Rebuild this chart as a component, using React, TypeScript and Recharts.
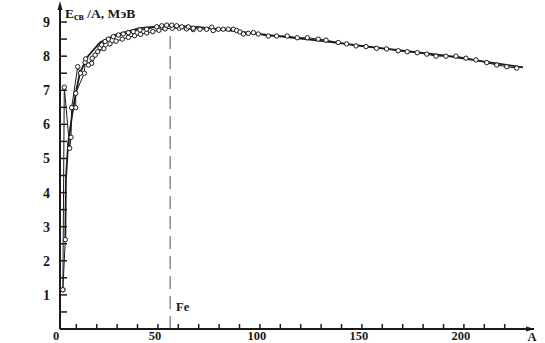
import { LineChart, Line, XAxis, YAxis, ReferenceLine, Customized } from 'recharts'

// mass number A / binding energy per nucleon
const startA = [3.4, 4.6]
const startE = [1.15, 2.62]

const upperA = [3.4, 4.1, 6.75, 7.4, 7.7, 10.7, 12.0, 14.6, 15.9, 17.8, 19.2, 21.6, 22.4, 24.1, 25.7, 28.1, 30.6, 33.0, 35.5, 37.9, 41.2, 44.5, 49.4, 51.9, 54.3, 56.8, 59.2, 61.7, 64.9, 67.3, 70.6, 73.9, 76.4, 77.1, 79.6, 82.0, 84.5, 87.0, 88.6, 90.2, 91.9, 94.3, 96.8, 99.2, 104.1, 108.2, 113.4, 118.3, 123.2, 128.6, 132.4, 138.4, 142.5, 147.1, 152.0, 157.2, 162.1, 167.8, 172.2, 177.1, 181.8, 186.3, 191.2, 196.1, 201.0, 205.9, 211.2, 216.1, 221.0, 225.9]
const upperE = [1.15, 7.09, 5.3, 5.62, 6.49, 7.69, 7.5, 7.92, 7.74, 7.94, 8.03, 8.25, 8.33, 8.43, 8.5, 8.57, 8.62, 8.65, 8.69, 8.72, 8.77, 8.79, 8.86, 8.89, 8.91, 8.91, 8.89, 8.86, 8.86, 8.82, 8.79, 8.79, 8.85, 8.75, 8.79, 8.79, 8.79, 8.79, 8.75, 8.71, 8.65, 8.67, 8.69, 8.65, 8.59, 8.59, 8.59, 8.54, 8.54, 8.5, 8.47, 8.4, 8.36, 8.3, 8.28, 8.23, 8.21, 8.16, 8.13, 8.1, 8.06, 8.0, 8.0, 8.0, 7.94, 7.89, 7.81, 7.74, 7.69, 7.65]

const lowerA = [9.7, 9.7, 13.9, 14.3, 17.5, 20.5, 23.5, 26.5, 29.5, 32.5, 35.5, 38.5, 41.5, 44.5, 47.5, 50.5, 53.5, 57.0, 60.5, 64.0, 67.3]
const lowerE = [6.49, 6.91, 7.5, 7.82, 7.79, 8.13, 8.22, 8.36, 8.44, 8.5, 8.55, 8.6, 8.64, 8.68, 8.72, 8.76, 8.8, 8.82, 8.82, 8.8, 8.78]

const smoothA = [4.6, 4.9, 6.0, 8.0, 9.7, 11.8, 15.7, 21.6, 29, 41, 56, 70, 90, 110, 130, 150, 170, 190, 210, 229]
const smoothE = [2.62, 4.4, 5.45, 6.3, 6.91, 7.52, 8.0, 8.4, 8.62, 8.82, 8.9, 8.85, 8.72, 8.58, 8.45, 8.3, 8.16, 8.02, 7.84, 7.67]

const xTicks = [10, 20, 30, 40, 50, 60, 70, 80, 90, 100, 110, 120, 130, 140, 150, 160, 170, 180, 190, 200, 210, 220]
const yTicks = [0.5, 1, 1.5, 2, 2.5, 3, 3.5, 4, 4.5, 5, 5.5, 6, 6.5, 7, 7.5, 8, 8.5, 9]

const FE_A = 56

const PLOT_LEFT = 60
const PLOT_RIGHT = 530
const PLOT_TOP = 5
const PLOT_BOTTOM = 329
const INK = '#1a1a1a'
const FONT = '"Liberation Serif", "Times New Roman", serif'

const toPoints = (a: number[], e: number[]) => a.map((v, i) => ({ a: v, e: e[i] }))

const dotStyle = { r: 2.2, fill: '#fff', stroke: INK, strokeWidth: 1 }

// tick marks come from the axes (mirror = pointing inwards), labels are placed here
function XTick(props: any) {
    const { x, payload } = props
    const v = payload.value
    if (v % 50 !== 0) return <g />
    return (
        <text x={x - 3} y={340} textAnchor="middle" fontFamily={FONT} fontWeight="bold" fontSize={12.5} fill={INK}>
            {v}
        </text>
    )
}

function YTick(props: any) {
    const { y, payload } = props
    const v = payload.value
    if (!Number.isInteger(v)) return <g />
    return (
        <text x={50} y={y + 5} textAnchor="end" fontFamily={FONT} fontWeight="bold" fontSize={14} fill={INK}>
            {v}
        </text>
    )
}

function Extras() {
    return (
        <g>
            <polygon points={`${PLOT_LEFT},1 ${PLOT_LEFT - 2.5},10 ${PLOT_LEFT + 2.5},10`} fill={INK} />
            <line x1={PLOT_RIGHT} x2={PLOT_RIGHT + 4} y1={PLOT_BOTTOM} y2={PLOT_BOTTOM} stroke={INK} strokeWidth={2} />
            <polygon points={`${PLOT_RIGHT + 5},${PLOT_BOTTOM} ${PLOT_RIGHT - 4},${PLOT_BOTTOM - 2.5} ${PLOT_RIGHT - 4},${PLOT_BOTTOM + 2.5}`} fill={INK} />
            <text x={65} y={18} fontFamily={FONT} fontWeight="bold" fontSize={13.5} fill={INK}>
                E<tspan fontSize={10} dy={2}>св</tspan><tspan dy={-2}> /A, МэВ</tspan>
            </text>
            <text x={56} y={340} textAnchor="middle" fontFamily={FONT} fontWeight="bold" fontSize={12.5} fill={INK}>0</text>
            <text x={532} y={341} textAnchor="middle" fontFamily={FONT} fontWeight="bold" fontSize={12.5} fill={INK}>A</text>
            <text x={176} y={311} fontFamily={FONT} fontWeight="bold" fontSize={12.5} fill={INK}>Fe</text>
        </g>
    )
}

export default function App() {
    return (
        <div style={{ position: 'absolute', left: 0, top: 0, background: '#fff' }}>
            <LineChart width={545} height={343} margin={{ top: PLOT_TOP, right: 545 - PLOT_RIGHT, bottom: 343 - PLOT_BOTTOM, left: PLOT_LEFT }}>
                <XAxis
                    type="number"
                    dataKey="a"
                    domain={[2, 232.4]}
                    ticks={xTicks}
                    interval={0}
                    mirror
                    tickSize={5}
                    tickMargin={2}
                    tickLine={{ stroke: INK, strokeWidth: 1.5 }}
                    tick={<XTick />}
                    axisLine={{ stroke: INK, strokeWidth: 2 }}
                    allowDataOverflow
                />
                <YAxis
                    type="number"
                    domain={[0, 9.5]}
                    ticks={yTicks}
                    interval={0}
                    mirror
                    tickSize={7}
                    tickMargin={2}
                    tickLine={{ stroke: INK, strokeWidth: 1.5 }}
                    tick={<YTick />}
                    axisLine={{ stroke: INK, strokeWidth: 2 }}
                    allowDataOverflow
                />
                <ReferenceLine
                    segment={[{ x: FE_A, y: 0 }, { x: FE_A, y: 8.8 }]}
                    stroke="#8a8a8a"
                    strokeWidth={1.5}
                    strokeDasharray="13 7"
                />
                <Line data={toPoints(smoothA, smoothE)} dataKey="e" type="linear" stroke={INK} strokeWidth={1.8} dot={false} isAnimationActive={false} />
                <Line data={toPoints(startA, startE)} dataKey="e" type="linear" stroke={INK} strokeWidth={1} dot={dotStyle} isAnimationActive={false} />
                <Line data={toPoints(lowerA, lowerE)} dataKey="e" type="linear" stroke={INK} strokeWidth={1} dot={dotStyle} isAnimationActive={false} />
                <Line data={toPoints(upperA, upperE)} dataKey="e" type="linear" stroke={INK} strokeWidth={1} dot={dotStyle} isAnimationActive={false} />
                <Customized component={<Extras />} />
            </LineChart>
        </div>
    )
}
